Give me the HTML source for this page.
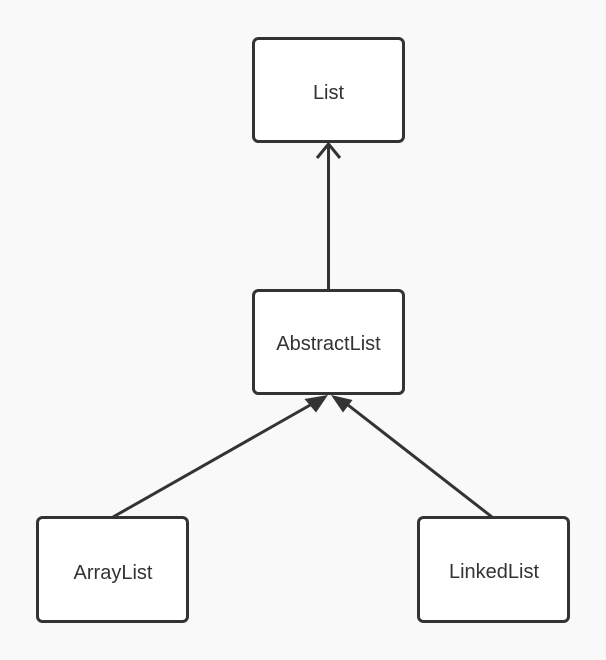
<!DOCTYPE html>
<html><head><style>
html,body{margin:0;padding:0;background:#f9f9f9;}
svg{display:block}
text{font-family:"Liberation Sans",sans-serif;font-size:20px;fill:#333;}
</style></head><body>
<svg width="606" height="660" viewBox="0 0 606 660">
<rect x="0" y="0" width="606" height="660" fill="#f9f9f9"/>
<g stroke="#333" stroke-width="3" fill="#fff">
<rect x="253.5" y="38.5" width="150" height="103" rx="5"/>
<rect x="253.5" y="290.5" width="150" height="103" rx="5"/>
<rect x="37.5" y="517.5" width="150" height="104" rx="5"/>
<rect x="418.5" y="517.5" width="150" height="104" rx="5"/>
</g>
<g stroke="#333" stroke-width="3" fill="none">
<line x1="328.5" y1="290" x2="328.5" y2="144"/>
<polyline points="317,158 328.5,144 340,158"/>
<line x1="113" y1="517" x2="312" y2="404"/>
<line x1="492" y1="517" x2="348" y2="405"/>
</g>
<g fill="#333">
<polygon points="328,395 316,412.5 304.5,399"/>
<polygon points="331,395 352.5,400 343,412.5"/>
</g>
<text x="328.5" y="99" text-anchor="middle">List</text>
<text x="328.5" y="350" text-anchor="middle">AbstractList</text>
<text x="113" y="579" text-anchor="middle">ArrayList</text>
<text x="494" y="578" text-anchor="middle">LinkedList</text>
</svg>
</body></html>
